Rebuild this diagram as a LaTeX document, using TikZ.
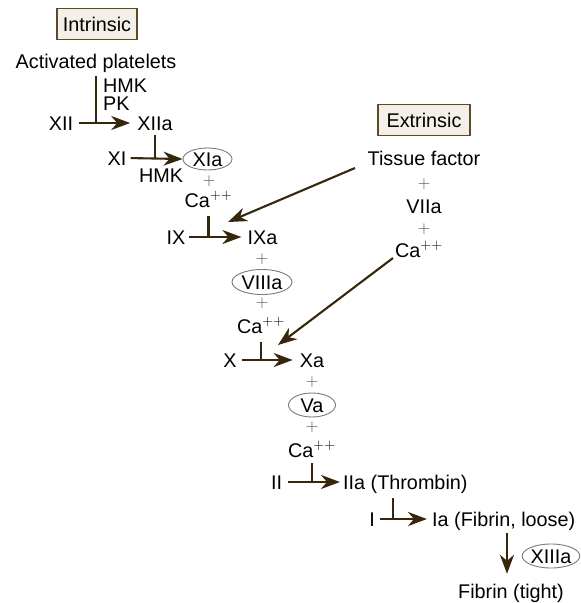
\documentclass[tikz,border=0pt]{standalone}
\usepackage{fontspec}
\setmainfont{Liberation Sans}
\usetikzlibrary{arrows.meta,shapes.geometric}
\definecolor{arrowbrown}{HTML}{36270C}
\definecolor{boxbrown}{HTML}{5C4A24}
\definecolor{boxfill}{HTML}{F2F0E8}
\definecolor{ovalgray}{HTML}{7A7A7A}
\begin{document}
\begin{tikzpicture}[x=1pt,y=-1pt,
  every node/.style={font=\fontsize{19.8}{22}\selectfont, text=black},
  lbl/.style={inner sep=0pt, text height=14pt, text depth=0pt},
  boxlbl/.style={draw=boxbrown, fill=boxfill, line width=1.5pt, inner sep=0pt,
    text height=14pt, text depth=0pt, minimum height=31pt},
  oval/.style={ellipse, draw=ovalgray, line width=0.9pt, inner sep=0pt,
    text height=14pt, text depth=0pt},
  plus/.style={inner sep=0pt, font=\fontsize{18}{20}\selectfont, text=black!70},
  arr/.style={draw=arrowbrown, line width=2.1pt,
    -{Stealth[length=19pt,width=14pt,inset=6pt]}},
  harr/.style={arr, shorten <=6pt, shorten >=7pt},
  tee/.style={draw=arrowbrown, line width=2.1pt, shorten <=9pt},
]
\useasboundingbox (0,0) rectangle (581,603);

% ---- intrinsic ----
\node[boxlbl, minimum width=80pt] (intr) at (97,24) {Intrinsic};
\node[lbl] (ap) at (96,61) {Activated platelets};
\node[lbl, anchor=west] (hmk1) at (103,85) {HMK};
\node[lbl, anchor=west] (pk) at (103,103) {PK};
\node[lbl] (xii) at (61,123) {XII};
\node[lbl] (xiia) at (155,123) {XIIa};
\node[lbl] (xi) at (117,158) {XI};
\node[oval, minimum width=49pt, minimum height=22pt] (xia) at (207.5,159) {XIa};
\node[lbl] (hmk2) at (161,175) {HMK};
\node[plus] (p1) at (209,181) {$+$};
\node[lbl] (ca1) at (208.5,200) {Ca$^{++}$};
\node[lbl] (ix) at (176,237) {IX};
\node[lbl] (ixa) at (262.5,237) {IXa};
\node[plus] (p2) at (262,259) {$+$};
\node[oval, minimum width=60pt, minimum height=25pt] (viiia) at (262,282) {VIIIa};
\node[plus] (p3) at (262,303) {$+$};
\node[lbl] (ca2) at (261,326) {Ca$^{++}$};
\node[lbl] (x) at (230,360) {X};
\node[lbl] (xa) at (312,360) {Xa};
\node[plus] (p4) at (312,382) {$+$};
\node[oval, minimum width=47pt, minimum height=24pt] (va) at (312,405) {Va};
\node[plus] (p5) at (312,427) {$+$};
\node[lbl] (ca3) at (312,450) {Ca$^{++}$};
\node[lbl] (ii) at (276.5,482) {II};
\node[lbl, anchor=west] (iia) at (343,482) {IIa (Thrombin)};
\node[lbl] (i) at (372,519) {I};
\node[lbl, anchor=west] (ia) at (432,519) {Ia (Fibrin, loose)};
\node[oval, minimum width=57pt, minimum height=24pt] (xiiia) at (551,556) {XIIIa};
\node[lbl] (ft) at (511,591) {Fibrin (tight)};

% ---- extrinsic ----
\node[boxlbl, minimum width=92pt] (extr) at (424,120) {Extrinsic};
\node[lbl] (tf) at (424,158) {Tissue factor};
\node[plus] (p6) at (424,184) {$+$};
\node[lbl] (viia) at (424,206) {VIIa};
\node[plus] (p7) at (424,229) {$+$};
\node[lbl] (ca4) at (419,250) {Ca$^{++}$};

% ---- junction coordinates ----
\coordinate (iaj) at (393,519);
\coordinate (tfs) at (355,168);
\coordinate (tft) at (228,222);
\coordinate (cas) at (393,258);
\coordinate (cat) at (278,345);

% ---- connectors ----
\draw[tee, shorten <=8pt] (ap.south) -- (ap.south |- xii.east);
\draw[harr] (xii.east) -- (xiia.west);
\draw[tee, shorten <=5pt] (xiia.south) -- (xiia.south |- xi.east);
\draw[arr, shorten <=4pt] (xi.east) -- (xia.west);
\draw[tee] (ca1.south) -- (ca1.south |- ix.east);
\draw[harr, shorten <=3pt, shorten >=6pt] (ix.east) -- (ixa.west);
\draw[tee] (ca2.south) -- (ca2.south |- x.east);
\draw[harr, shorten <=5pt, shorten >=7pt] (x.east) -- (xa.west);
\draw[tee, shorten <=6pt] (ca3.south) -- (ca3.south |- ii.east);
\draw[harr, shorten <=6pt, shorten >=3pt] (ii.east) -- (iia.west);
\draw[tee] (iaj |- iia.south) -- (iaj);
\draw[harr, shorten <=5pt, shorten >=5pt] (i.east) -- (ia.west);
\draw[arr, shorten <=7pt, shorten >=10pt] (ia.south -| 507,0) -- (ft.north -| 507,0);
\draw[arr] (tfs) -- (tft);
\draw[arr] (cas) -- (cat);
\end{tikzpicture}
\end{document}
